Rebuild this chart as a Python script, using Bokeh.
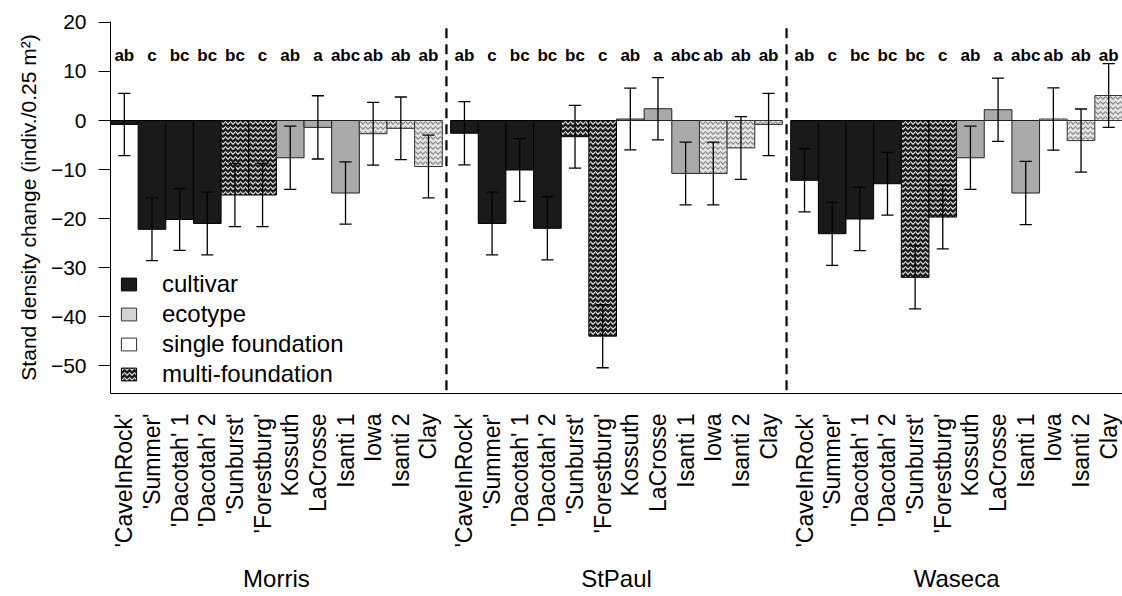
import numpy as np
from bokeh.plotting import figure
from bokeh.models import (Range1d, LinearAxis, FixedTicker, ColumnDataSource,
                          Legend, LegendItem)
from bokeh.core.properties import value
from bokeh.embed import file_html
from bokeh.resources import INLINE

# ---------------- data ----------------
sites = ["Morris", "StPaul", "Waseca"]
varieties = ["'CaveInRock'", "'Summer'", "'Dacotah' 1", "'Dacotah' 2", "'Sunburst'",
             "'Forestburg'", "Kossuth", "LaCrosse", "Isanti 1", "Iowa", "Isanti 2", "Clay"]
bar_style = ["cultivar"] * 4 + ["multi"] * 2 + ["ecotype"] * 3 + ["light"] * 3
letters = ["ab", "c", "bc", "bc", "bc", "c", "ab", "a", "abc", "ab", "ab", "ab"]

morris_mean = [-0.8, -22.2, -20.2, -21.0, -15.2, -15.2, -7.6, -1.4, -14.8, -2.7, -1.6, -9.4]
morris_se = [6.35, 6.4, 6.3, 6.4, 6.45, 6.45, 6.45, 6.45, 6.35, 6.4, 6.4, 6.4]
stpaul_mean = [-2.6, -21.0, -10.1, -22.0, -3.3, -44.0, 0.3, 2.4, -10.8, -10.8, -5.6, -0.8]
stpaul_se = [6.45, 6.4, 6.4, 6.45, 6.4, 6.45, 6.3, 6.35, 6.4, 6.4, 6.4, 6.35]
waseca_mean = [-12.2, -23.1, -20.1, -12.9, -32.0, -19.7, -7.6, 2.2, -14.8, 0.3, -4.1, 5.1]
waseca_se = [6.45, 6.45, 6.45, 6.4, 6.45, 6.5, 6.45, 6.45, 6.45, 6.35, 6.45, 6.5]

legend_labels = ["cultivar", "ecotype", "single foundation", "multi-foundation"]

means = [morris_mean, stpaul_mean, waseca_mean]
ses = [morris_se, stpaul_se, waseca_se]

# ---------------- layout helpers ----------------
BW = 10      # bar width in x units
GAP = 3      # gap between site groups
NV = len(varieties)
GROUP = NV * BW + GAP

FONT = "Liberation Sans"

p = figure(width=1122, height=596, output_backend="svg", toolbar_location=None,
           x_range=Range1d(0, len(sites) * NV * BW + (len(sites) - 1) * GAP),
           y_range=Range1d(-55.7, 20.2),
           x_axis_type=None, y_axis_type=None,
           min_border_left=110, min_border_right=0, min_border_top=21,
           min_border_bottom=203)
p.outline_line_color = None
p.background_fill_color = "white"
p.border_fill_color = "white"

styles = {
    "cultivar": dict(fill_color="#1a1a1a", hatch_pattern=None, hatch_color="white", line_color="black"),
    "multi": dict(fill_color="#1c1c1c", hatch_pattern="v", hatch_color="#e0e0e0", line_color="black"),
    "ecotype": dict(fill_color="#aaaaaa", hatch_pattern=None, hatch_color="white", line_color="#222222"),
    "light": dict(fill_color="#e4e4e4", hatch_pattern="v", hatch_color="#8a8a8a", line_color="#333333"),
}

all_x, all_lo, all_hi, all_lab = [], [], [], []
for k, site in enumerate(sites):
    for sty, st in styles.items():
        xs, tops = [], []
        for i in range(NV):
            if bar_style[i] == sty:
                xs.append(k * GROUP + i * BW + BW / 2)
                tops.append(means[k][i])
        kw = dict(x=xs, top=tops, bottom=0, width=BW, fill_color=st["fill_color"],
                  line_color=st["line_color"], line_width=1)
        if st["hatch_pattern"]:
            kw.update(hatch_pattern=st["hatch_pattern"], hatch_color=st["hatch_color"],
                      hatch_scale=5, hatch_weight=1.2)
        p.vbar(**kw)
    for i in range(NV):
        all_x.append(k * GROUP + i * BW + BW / 2)
        all_lo.append(means[k][i] - ses[k][i])
        all_hi.append(means[k][i] + ses[k][i])
        all_lab.append(letters[i])

all_x = np.array(all_x)
p.segment(x0=all_x, y0=all_lo, x1=all_x, y1=all_hi, line_color="black", line_width=1.3)
cap = 2.2
p.segment(x0=all_x - cap, y0=all_lo, x1=all_x + cap, y1=all_lo, line_color="black", line_width=1.3)
p.segment(x0=all_x - cap, y0=all_hi, x1=all_x + cap, y1=all_hi, line_color="black", line_width=1.3)

# significance letters
p.text(x=all_x, y=[13.3] * len(all_x), text=all_lab, text_align="center",
       text_baseline="middle", text_font=value(FONT), text_font_style="bold",
       text_font_size="17px", text_color="black")

# dashed separators between sites
sep_x = [k * GROUP - GAP / 2 for k in range(1, len(sites))]
p.segment(x0=sep_x, y0=[18.8] * len(sep_x), x1=sep_x, y1=[-55.7] * len(sep_x),
          line_color="black", line_width=2.2, line_dash="10 6")

# ---------------- axes ----------------
yaxis = LinearAxis(ticker=FixedTicker(ticks=list(range(-50, 21, 10))))
yaxis.axis_label = "Stand density change (indiv./0.25 m²)"
yaxis.axis_label_text_font = FONT
yaxis.axis_label_text_font_size = "21px"
yaxis.axis_label_text_font_style = "normal"
yaxis.axis_label_text_color = "black"
yaxis.axis_label_standoff = 8
yaxis.major_label_text_font = FONT
yaxis.major_label_text_font_size = "21px"
yaxis.major_label_text_color = "black"
yaxis.major_tick_out = 12
yaxis.major_tick_in = 0
yaxis.minor_tick_line_color = None
yaxis.major_label_standoff = 12
yaxis.axis_line_color = "black"
yaxis.major_tick_line_color = "black"
p.add_layout(yaxis, "left")

centers = [int(k * GROUP + i * BW + BW / 2) for k in range(len(sites)) for i in range(NV)]
xaxis = LinearAxis(ticker=FixedTicker(ticks=centers),
                   major_label_overrides={c: varieties[j % NV] for j, c in enumerate(centers)})
xaxis.major_label_orientation = np.pi / 2
xaxis.major_tick_out = 0
xaxis.major_tick_in = 0
xaxis.major_tick_line_color = None
xaxis.minor_tick_line_color = None
xaxis.major_label_standoff = 20
xaxis.major_label_text_font = FONT
xaxis.major_label_text_font_size = "23px"
xaxis.major_label_text_color = "black"
xaxis.axis_line_color = "black"
p.add_layout(xaxis, "below")

gcenters = [int(k * GROUP + NV * BW / 2) for k in range(len(sites))]
gaxis = LinearAxis(ticker=FixedTicker(ticks=gcenters),
                   major_label_overrides={c: sites[k] for k, c in enumerate(gcenters)})
gaxis.axis_line_color = None
gaxis.major_tick_line_color = None
gaxis.minor_tick_line_color = None
gaxis.major_tick_out = 0
gaxis.major_tick_in = 0
gaxis.major_label_standoff = 14
gaxis.major_label_text_font = FONT
gaxis.major_label_text_font_size = "24px"
gaxis.major_label_text_color = "black"
p.add_layout(gaxis, "below")

# ---------------- legend ----------------
leg_styles = [
    dict(fill_color="#1a1a1a", line_color="black"),
    dict(fill_color="#d3d3d3", line_color="#333333"),
    dict(fill_color="white", line_color="#333333"),
    dict(fill_color="#1c1c1c", line_color="black", hatch_pattern="v",
         hatch_color="#e0e0e0", hatch_scale=5, hatch_weight=1.2),
]
items = []
for lab, st in zip(legend_labels, leg_styles):
    r = p.vbar(x=[np.nan], top=[np.nan], width=BW, **st)
    items.append(LegendItem(label=value(lab), renderers=[r]))

legend = Legend(items=items, location=(9, 5), border_line_color=None,
                background_fill_alpha=0, glyph_width=19, glyph_height=16,
                label_text_font=FONT, label_text_font_size="24px",
                label_text_color="black",
                label_standoff=24, spacing=2, padding=0, margin=0, label_height=16)
p.add_layout(legend)

open("out.html", "w").write(file_html(p, INLINE))
